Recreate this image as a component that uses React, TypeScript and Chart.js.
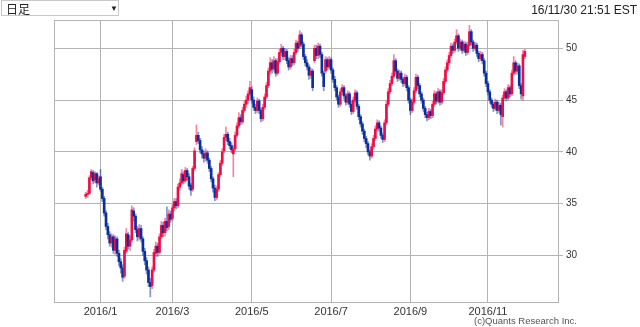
import React, { useEffect, useRef } from 'react';
import { Chart, registerables } from 'chart.js';

Chart.register(...registerables);

// Daily OHLC, 2015/12/21 .. 2016/11/30 (trading-day index order)
const opens = [
  35.7, 35.9, 36.0, 37.5, 38.0, 37.3, 37.9, 37.0,
  37.6, 36.4, 35.5, 34.1, 32.8, 32.0, 31.2, 31.8, 30.5, 31.6, 30.2, 29.4, 28.8, 28.0, 30.4, 32.0, 30.9, 31.5, 34.3,
  33.8, 32.5, 31.8, 32.6, 31.6, 30.4, 29.5, 28.6, 27.4, 27.1, 28.6, 30.2, 30.9, 30.3, 31.8, 32.9, 32.2, 33.3, 32.8, 34.0,
  33.6, 34.6, 35.2, 34.8, 36.6, 37.0, 37.8, 37.2, 38.2, 37.6, 36.8, 36.4, 38.4, 41.0, 41.6, 41.1, 40.2, 39.8, 39.4, 39.9, 39.2, 38.4,
  37.4, 36.5, 35.6, 36.4, 37.8, 38.9, 40.1, 41.4, 41.7, 41.0, 40.6, 39.8, 40.3, 41.6, 42.5, 43.3, 42.9, 44.0, 44.6, 45.0, 45.6,
  46.0, 45.0, 44.3, 44.0, 44.9, 44.0, 43.2, 44.3, 45.3, 46.4, 47.8, 48.6, 48.0, 48.8, 47.6, 48.7, 49.6, 50.0, 49.2, 49.7, 48.8,
  48.2, 49.0, 48.6, 49.6, 50.5, 50.2, 51.3, 50.4, 49.2, 48.6, 48.2, 47.4, 47.8, 48.8, 50.0, 49.3, 50.2, 49.4, 47.6, 47.8, 48.9, 48.2,
  48.9, 47.9, 47.0, 46.2, 45.3, 44.6, 45.8, 46.2, 45.4, 44.8, 45.6, 44.6, 43.9, 45.0, 45.7, 44.4, 43.4, 42.7, 42.0, 41.3,
  40.8, 40.0, 39.6, 40.5, 41.3, 42.2, 42.8, 42.3, 41.6, 41.2, 42.8, 44.6, 45.8, 46.6, 47.3, 48.8, 47.8, 47.1, 47.6, 47.0, 46.6, 47.2, 46.2,
  45.0, 44.0, 44.8, 45.9, 47.2, 46.4, 45.6, 45.0, 44.2, 43.6, 43.3, 43.9, 43.5, 44.6, 45.6, 44.9, 45.8, 44.8, 45.7, 46.8, 47.9,
  48.6, 49.3, 50.2, 49.8, 50.6, 51.2, 50.0, 50.6, 49.8, 50.4, 49.6, 50.3, 51.6, 50.6, 50.0, 50.3, 49.5, 49.0, 49.4, 48.8, 47.6,
  46.6, 45.8, 45.0, 44.6, 44.2, 44.8, 44.0, 44.5, 43.4, 45.2, 45.8, 45.2, 46.2, 45.6, 47.6, 48.6, 47.8, 48.3, 46.4, 45.4, 49.2,
];
const highs = [
  36.1, 36.3, 37.7, 38.3, 38.2, 38.1, 38.0, 37.7,
  38.3, 36.6, 35.7, 34.3, 33.1, 32.3, 32.1, 32.0, 31.9, 31.8, 30.5, 29.7, 29.1, 30.8, 32.6, 32.2, 31.9, 34.8, 34.6,
  34.0, 32.8, 33.0, 32.9, 31.8, 30.7, 29.8, 28.9, 27.8, 28.9, 30.6, 31.3, 31.2, 32.1, 33.3, 33.2, 33.6, 34.7, 34.4, 34.3,
  34.9, 35.5, 35.5, 36.9, 37.4, 38.3, 38.1, 38.5, 38.4, 37.9, 37.0, 38.6, 40.4, 42.6, 41.9, 41.3, 40.5, 40.1, 40.3, 40.1, 39.4, 38.6,
  37.6, 36.8, 36.7, 38.0, 39.2, 40.3, 41.7, 42.4, 41.9, 41.3, 40.9, 40.6, 41.9, 42.8, 43.8, 43.6, 44.3, 44.9, 45.4, 45.9, 46.8,
  46.3, 45.3, 44.6, 45.2, 45.1, 44.2, 44.6, 45.6, 46.7, 48.1, 49.1, 48.9, 49.2, 49.0, 49.0, 49.9, 50.4, 50.2, 50.0, 49.9, 49.1,
  49.3, 49.3, 49.9, 50.8, 50.7, 51.7, 51.5, 50.6, 49.4, 48.9, 48.4, 48.1, 48.0, 50.3, 50.3, 50.5, 50.4, 49.6, 47.8, 49.2, 49.1, 49.2,
  49.1, 48.1, 47.3, 46.4, 45.5, 46.1, 46.5, 46.4, 45.6, 45.9, 45.8, 44.9, 45.3, 46.0, 45.9, 44.6, 43.6, 42.9, 42.2, 41.5,
  41.0, 40.2, 40.8, 41.6, 42.5, 43.1, 43.0, 42.5, 41.8, 43.1, 44.9, 46.1, 46.9, 47.6, 49.4, 49.0, 48.0, 47.9, 47.8, 47.2, 47.5, 47.4, 46.4,
  45.2, 45.1, 46.2, 47.5, 47.4, 46.6, 45.8, 45.2, 44.4, 43.8, 44.2, 44.1, 44.9, 45.9, 45.8, 46.1, 46.0, 46.0, 47.1, 48.2, 48.9,
  49.6, 50.5, 50.4, 50.9, 51.8, 51.4, 50.9, 50.8, 50.7, 50.6, 50.6, 52.2, 51.8, 50.8, 50.6, 50.5, 49.7, 49.7, 49.6, 49.0, 47.8,
  46.8, 46.0, 45.2, 44.8, 45.1, 45.0, 44.8, 44.7, 45.5, 46.1, 46.0, 46.5, 46.4, 47.9, 49.2, 48.8, 48.6, 48.5, 46.6, 49.8, 49.9,
];
const lows = [
  35.5, 35.6, 35.9, 37.3, 36.9, 37.0, 36.6, 36.8,
  36.2, 35.2, 33.8, 32.5, 31.6, 30.9, 30.8, 30.2, 30.1, 29.9, 29.0, 28.3, 27.5, 27.8, 30.2, 30.6, 30.5, 31.3, 33.3,
  32.2, 31.4, 31.5, 31.3, 30.0, 29.1, 28.2, 27.0, 26.0, 26.8, 28.4, 29.9, 29.9, 30.1, 31.6, 31.8, 31.9, 32.4, 32.5, 33.2,
  33.4, 34.3, 34.5, 34.6, 36.3, 36.8, 36.9, 37.0, 37.3, 36.4, 35.8, 36.2, 38.2, 40.7, 40.8, 39.9, 39.4, 39.0, 39.1, 38.9, 38.1, 37.1,
  36.1, 35.3, 35.4, 36.2, 37.6, 38.7, 39.9, 41.1, 40.7, 40.3, 39.9, 37.6, 40.1, 41.4, 42.3, 42.6, 42.7, 43.8, 44.3, 44.7, 45.4,
  44.7, 44.0, 43.7, 43.8, 43.7, 42.9, 43.0, 44.1, 45.1, 46.2, 47.5, 47.6, 47.8, 47.3, 47.4, 48.5, 49.3, 48.9, 48.9, 48.5, 47.9,
  48.0, 48.3, 48.4, 49.4, 49.7, 50.0, 50.1, 48.9, 48.3, 47.9, 47.0, 47.1, 45.9, 48.6, 49.0, 49.0, 49.1, 47.3, 45.9, 47.6, 47.9, 48.0,
  47.6, 46.7, 45.9, 45.0, 44.3, 44.4, 45.5, 45.1, 44.5, 44.6, 44.3, 43.6, 43.7, 44.8, 44.1, 43.1, 42.4, 41.7, 41.0, 40.4,
  39.7, 39.2, 39.4, 40.3, 41.1, 42.0, 42.0, 41.3, 40.9, 41.0, 42.6, 44.4, 45.6, 46.4, 47.1, 47.5, 46.8, 46.9, 46.7, 46.3, 46.4, 45.9, 44.7,
  43.6, 43.8, 44.6, 45.7, 46.1, 45.3, 44.7, 43.9, 43.3, 43.0, 43.1, 43.2, 43.3, 44.4, 44.6, 44.7, 44.5, 44.6, 45.5, 46.6, 47.7,
  48.4, 49.1, 49.5, 49.6, 50.4, 49.7, 49.8, 49.5, 49.6, 49.3, 49.4, 50.1, 50.3, 49.7, 49.8, 49.2, 48.7, 48.8, 48.5, 47.3, 46.3,
  45.5, 44.7, 44.3, 43.9, 44.0, 43.7, 43.8, 42.6, 42.4, 45.0, 44.9, 45.0, 45.3, 45.4, 47.4, 47.5, 47.5, 46.1, 45.1, 45.0, 49.0,
];
const closes = [
  35.9, 36.0, 37.5, 38.1, 37.2, 37.9, 37.0, 37.4,
  36.4, 35.5, 34.1, 32.8, 32.0, 31.2, 31.8, 30.5, 31.6, 30.2, 29.4, 28.8, 27.9, 30.5, 32.1, 30.9, 31.5, 34.4, 33.8,
  32.5, 31.8, 32.6, 31.6, 30.4, 29.5, 28.6, 27.4, 27.0, 28.6, 30.3, 30.9, 30.3, 31.8, 32.9, 32.2, 33.3, 32.7, 34.0, 33.5,
  34.6, 35.2, 34.8, 36.6, 37.0, 37.9, 37.2, 38.2, 37.6, 36.7, 36.3, 38.4, 40.1, 41.6, 41.1, 40.2, 39.8, 39.4, 39.9, 39.2, 38.4, 37.4,
  36.5, 35.6, 36.4, 37.8, 38.9, 40.0, 41.4, 41.7, 41.0, 40.6, 40.2, 40.3, 41.6, 42.5, 43.3, 42.9, 44.0, 44.6, 45.0, 45.6, 46.2,
  45.0, 44.3, 44.0, 44.9, 44.0, 43.2, 44.3, 45.3, 46.4, 47.8, 48.6, 48.0, 48.8, 47.6, 48.7, 49.6, 50.0, 49.2, 49.7, 48.8, 48.2,
  49.0, 48.6, 49.6, 50.5, 50.0, 51.3, 50.4, 49.2, 48.6, 48.2, 47.4, 47.8, 46.2, 50.0, 49.3, 50.2, 49.4, 47.6, 46.3, 48.9, 48.2, 48.9,
  47.9, 47.0, 46.2, 45.3, 44.6, 45.8, 46.2, 45.4, 44.8, 45.6, 44.6, 43.9, 45.0, 45.7, 44.4, 43.4, 42.7, 42.0, 41.3, 40.8,
  40.0, 39.6, 40.5, 41.3, 42.2, 42.8, 42.3, 41.6, 41.2, 42.8, 44.6, 45.8, 46.6, 47.3, 48.8, 47.8, 47.1, 47.6, 47.0, 46.6, 47.2, 46.2, 45.0,
  44.0, 44.8, 45.9, 47.2, 46.4, 45.6, 45.0, 44.2, 43.6, 43.3, 43.9, 43.5, 44.6, 45.6, 44.9, 45.8, 44.8, 45.7, 46.8, 47.9, 48.6,
  49.3, 50.2, 49.8, 50.6, 51.2, 50.0, 50.6, 49.8, 50.4, 49.6, 50.3, 51.6, 50.6, 50.0, 50.3, 49.5, 49.0, 49.4, 48.8, 47.6, 46.6,
  45.8, 45.0, 44.6, 44.2, 44.8, 44.0, 44.5, 43.6, 45.2, 45.8, 45.2, 46.2, 45.6, 47.6, 48.6, 47.8, 48.3, 46.4, 45.6, 49.4, 49.7,
];

const tickIndex = [8, 47, 90, 133, 176, 218];
const tickLabels = ['2016/1', '2016/3', '2016/5', '2016/7', '2016/9', '2016/11'];
const priceTicks = [30, 35, 40, 45, 50];

const GRID = '#b4b4b4';
const UP = '#ee0c46';
const DOWN = '#0b2e9c';
const UP_WICK = 'rgba(238,12,70,0.5)';
const DOWN_WICK = 'rgba(20,60,170,0.55)';

export default function App() {
  const ref = useRef<HTMLCanvasElement>(null);

  useEffect(() => {
    if (!ref.current) return;
    const isUp = opens.map((o, i) => closes[i] >= o);
    const frame = {
      id: 'frame',
      beforeDatasetsDraw(chart: any) {
        const { ctx, chartArea: a } = chart;
        ctx.save();
        ctx.strokeStyle = GRID;
        ctx.lineWidth = 1;
        ctx.strokeRect(Math.round(a.left) + 0.5, Math.round(a.top) + 0.5, Math.round(a.right - a.left), Math.round(a.bottom - a.top));
        ctx.restore();
      },
    };
    const chart = new Chart(ref.current, {
      type: 'bar',
      data: {
        datasets: [
          {
            label: 'body',
            data: opens.map((o, i) => ({ x: i, y: [o, closes[i]] })) as any,
            backgroundColor: (c: any) => (isUp[c.dataIndex] ? UP : DOWN),
            barThickness: 2,
            grouped: false,
            order: 0,
          } as any,
          {
            label: 'wick',
            data: lows.map((l, i) => ({ x: i, y: [l, highs[i]] })) as any,
            backgroundColor: (c: any) => (isUp[c.dataIndex] ? UP_WICK : DOWN_WICK),
            barThickness: 1,
            grouped: false,
            order: 1,
          } as any,
        ],
      },
      options: {
        responsive: false,
        animation: false,
        events: [],
        layout: { padding: { left: 54, top: 20, right: 0, bottom: 0 } },
        plugins: { legend: { display: false }, tooltip: { enabled: false } },
        scales: {
          x: {
            type: 'linear',
            min: -17.2,
            max: 256,
            offset: false,
            grid: { color: GRID, drawTicks: false, offset: false },
            border: { color: GRID },
            afterBuildTicks: (s: any) => {
              s.ticks = tickIndex.map((v) => ({ value: v }));
            },
            afterFit: (s: any) => {
              s.height = 25;
            },
            ticks: {
              autoSkip: false,
              maxRotation: 0,
              padding: 3,
              color: '#333',
              font: { family: '"Liberation Sans", Arial, sans-serif', size: 11 },
              callback: (v: any) => {
                const k = tickIndex.indexOf(Number(v));
                return k >= 0 ? tickLabels[k] : '';
              },
            },
          },
          y: {
            position: 'right',
            min: 25.51,
            max: 52.73,
            beginAtZero: false,
            grid: { color: GRID, tickLength: 5 },
            border: { color: GRID },
            afterBuildTicks: (s: any) => {
              s.ticks = priceTicks.map((v) => ({ value: v }));
            },
            afterFit: (s: any) => {
              s.width = 82;
            },
            ticks: {
              padding: 3,
              color: '#333',
              font: { family: '"Liberation Sans", Arial, sans-serif', size: 10 },
              callback: (v: any) => String(v),
            },
          },
        },
      } as any,
      plugins: [frame],
    });
    return () => chart.destroy();
  }, []);

  return (
    <div
      style={{
        position: 'absolute',
        left: 0,
        top: 0,
        width: 640,
        height: 327,
        background: '#fff',
        fontFamily: '"Liberation Sans", Arial, sans-serif',
        overflow: 'hidden',
      }}
    >
      <canvas ref={ref} width={640} height={327} style={{ position: 'absolute', left: 0, top: 0 }} />
      <div
        style={{
          position: 'absolute',
          left: 1,
          top: 0,
          width: 118,
          height: 16,
          border: '1px solid #c8c8c8',
          background: '#fff',
          boxSizing: 'border-box',
        }}
      >
        <span
          style={{
            position: 'absolute',
            left: 4,
            top: 0,
            fontSize: 12,
            lineHeight: '15px',
            color: '#222',
            fontFamily: '"Noto Sans CJK JP", sans-serif',
          }}
        >
          日足
        </span>
        <span style={{ position: 'absolute', left: 108, top: 1, fontSize: 8, lineHeight: '13px', color: '#222' }}>▼</span>
      </div>
      <div style={{ position: 'absolute', right: 3, top: 3, fontSize: 12, lineHeight: '14px', color: '#222' }}>
        16/11/30 21:51 EST
      </div>
      <div style={{ position: 'absolute', left: 474, top: 315, fontSize: 9.5, lineHeight: '11px', color: '#555' }}>
        (c)Quants Research Inc.
      </div>
    </div>
  );
}
